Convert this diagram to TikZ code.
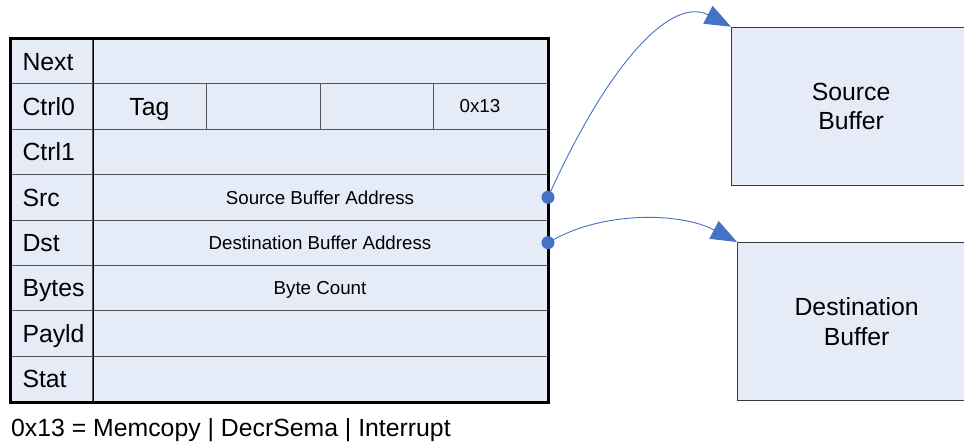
\documentclass[tikz,border=0pt]{standalone}
\usepackage{fontspec}
\setmainfont{Liberation Sans}
\usetikzlibrary{arrows.meta}
\definecolor{cellfill}{HTML}{E6ECF7}
\definecolor{linkblue}{HTML}{4472C4}
\definecolor{gridgray}{HTML}{555555}
\definecolor{boxgray}{HTML}{3A3A3A}
\begin{document}
\begin{tikzpicture}[x=1pt,y=-1pt,
  bigfont/.style={font=\fontsize{24.8}{29.5}\selectfont},
  smallfont/.style={font=\fontsize{18.75}{22}\selectfont},
  labcell/.style={draw=gridgray, line width=1pt, fill=cellfill, anchor=north west,
    minimum width=82pt, minimum height=45.375pt, text width=58pt, inner xsep=12pt,
    inner ysep=0pt, align=left, bigfont, text height=17.8pt, text depth=0pt},
  fldcell/.style={draw=gridgray, line width=1pt, fill=cellfill, anchor=north west,
    minimum width=455pt, minimum height=45.375pt, inner sep=0pt, smallfont,
    text height=13.4pt, text depth=0pt},
  subcell/.style={fldcell, minimum width=113.75pt},
  bufbox/.style={draw=boxgray, line width=1.2pt, fill=cellfill, anchor=north west,
    align=center, inner sep=0pt, bigfont},
  dot/.style={circle, fill=linkblue, inner sep=0pt, minimum size=13pt},
  link/.style={draw=linkblue, line width=0.9pt, -{Triangle[length=26pt,width=20pt]}},
  plain/.style={inner sep=0pt}
]
\useasboundingbox (0,0) rectangle (964,442);
\clip (0,0) rectangle (964,442);

% label column
\foreach \lab [count=\i from 0] in {Next,Ctrl0,Ctrl1,Src,Dst,Bytes,Payld,Stat}
  \node[labcell] (lab\i) at (10,{38+45.375*\i}) {\lab};

% field column
\node[fldcell] (fld0) at (92,38) {};
\node[subcell, bigfont, text height=17.8pt] (tag) at (92,83.375) {Tag};
\node[subcell] (ctrlb) at (205.75,83.375) {};
\node[subcell] (ctrlc) at (319.5,83.375) {};
\node[subcell] (ctrld) at (433.25,83.375) {};
\node[plain, smallfont, text height=13.4pt, text depth=0pt] (hex) at (480,106.06) {0x13};
\node[fldcell] (fld2) at (92,128.75) {};
\node[fldcell] (fld3) at (92,174.125) {Source Buffer Address};
\node[fldcell] (fld4) at (92,219.5) {Destination Buffer Address};
\node[fldcell] (fld5) at (92,264.875) {Byte Count};
\node[fldcell] (fld6) at (92,310.25) {};
\node[fldcell] (fld7) at (92,355.625) {};

% dividers and outer frame
\draw[line width=1pt, black] (lab0.north east) -- (lab7.south east);
\draw[line width=3pt, black] (lab0.north west) rectangle (fld7.south east);

% buffers
\node[bufbox, minimum width=239pt, minimum height=158.3pt] (sbuf) at (731,26.7) {Source\\Buffer};
\node[bufbox, minimum width=238pt, minimum height=158pt] (dbuf) at (737,242) {Destination\\Buffer};

% pointer dots
\node[dot] (sdot) at (fld3.east) {};
\node[dot] (ddot) at (fld4.east) {};

% connectors
\draw[link] (sdot.center) .. controls +(63,-140) and +(-58,-30) .. (sbuf.north west);
\draw[link] (ddot.center) .. controls +(53,-32) and +(-57,-30) .. (dbuf.north west);

% caption
\node[plain, bigfont, anchor=west] (caption) at (11,430) {0x13 = Memcopy | DecrSema | Interrupt};
\end{tikzpicture}
\end{document}
